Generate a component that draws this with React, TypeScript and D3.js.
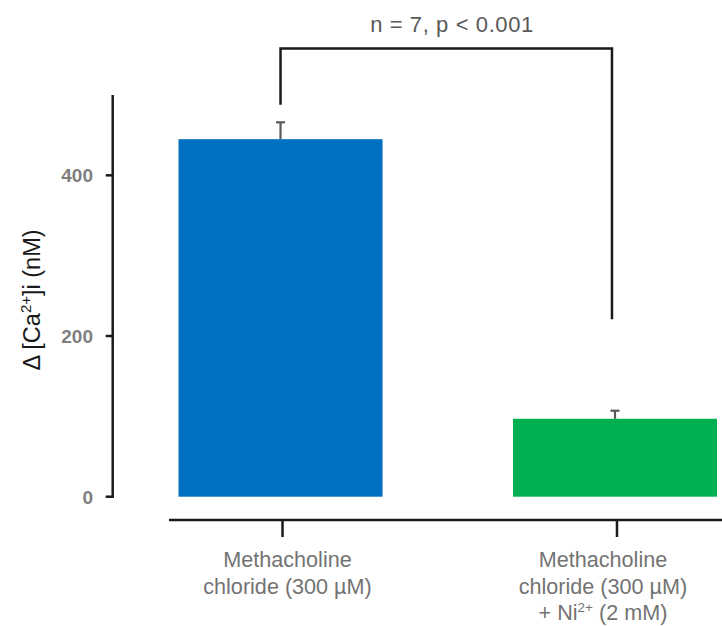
import React from "react";
import * as d3 from "d3";

const categories = ["Methacholine chloride (300 µM)", "Methacholine chloride (300 µM) + Ni2+ (2 mM)"];
const means = [445, 97];
const errors = [21, 10];
const barColors = ["#0070C0", "#00B050"];
const yTicks = [0, 200, 400];
const yMax = 500;
const bracketTop = 558;
const bracketLegEnds = [488, 221];
const annotation = "n = 7, p < 0.001";

const W = 722;
const H = 626;

export default function App() {
  const y = d3.scaleLinear().domain([0, yMax]).range([496.7, 95]);
  const x = d3
    .scaleBand<string>()
    .domain(categories)
    .range([178.5, 717])
    .paddingInner(0.39)
    .paddingOuter(0);
  const bw = x.bandwidth();
  const cx = (c: string) => (x(c) as number) + bw / 2;
  const axisX = 112.7;
  const xAxisY = 520;
  const labelDx = [7, -12];
  const gray = "#737373";
  const lfs = 21.6;

  return (
    <svg
      width={W}
      height={H}
      style={{ position: "absolute", left: 0, top: 0, background: "#fff" }}
      fontFamily="'Liberation Sans', Arial, sans-serif"
    >
      {/* bars */}
      {categories.map((c, i) => (
        <rect
          key={c}
          x={x(c)}
          y={y(means[i])}
          width={bw}
          height={y(0) - y(means[i])}
          fill={barColors[i]}
        />
      ))}
      {/* error bars */}
      {categories.map((c, i) => (
        <g key={"e" + c} stroke="#595959" strokeWidth={2.2}>
          <line x1={cx(c)} x2={cx(c)} y1={y(means[i])} y2={y(means[i] + errors[i])} />
          <line x1={cx(c) - 4.5} x2={cx(c) + 4.5} y1={y(means[i] + errors[i])} y2={y(means[i] + errors[i])} />
        </g>
      ))}
      {/* y axis */}
      <line x1={axisX} x2={axisX} y1={y(yMax)} y2={y(0) + 1} stroke="#1a1a1a" strokeWidth={2.5} />
      {yTicks.map((t) => (
        <g key={t}>
          <line x1={axisX - 7} x2={axisX + 1} y1={y(t)} y2={y(t)} stroke="#1a1a1a" strokeWidth={2.5} />
          <text
            x={93}
            y={y(t)}
            dy="0.36em"
            textAnchor="end"
            fontSize={19}
            fontWeight="bold"
            fill="#7f7f7f"
          >
            {t}
          </text>
        </g>
      ))}
      {/* y label */}
      <text
        transform="translate(40,300) rotate(-90)"
        textAnchor="middle"
        fontSize={23.5}
        fill="#1a1a1a"
      >
        {"Δ [Ca"}
        <tspan fontSize={15} dy={-9}>2+</tspan>
        <tspan dy={9}>{"]i (nM)"}</tspan>
      </text>
      {/* x axis */}
      <line x1={169} x2={W} y1={xAxisY} y2={xAxisY} stroke="#1a1a1a" strokeWidth={2.5} />
      {categories.map((c) => (
        <line key={"t" + c} x1={cx(c) + 2} x2={cx(c) + 2} y1={xAxisY} y2={537} stroke="#1a1a1a" strokeWidth={2.5} />
      ))}
      {/* x labels */}
      <text x={cx(categories[0]) + labelDx[0]} y={567} textAnchor="middle" fontSize={lfs} fill={gray}>
        <tspan x={cx(categories[0]) + labelDx[0]}>Methacholine</tspan>
        <tspan x={cx(categories[0]) + labelDx[0]} dy={26.5}>chloride (300 µM)</tspan>
      </text>
      <text x={cx(categories[1]) + labelDx[1]} y={567} textAnchor="middle" fontSize={lfs} fill={gray}>
        <tspan x={cx(categories[1]) + labelDx[1]}>Methacholine</tspan>
        <tspan x={cx(categories[1]) + labelDx[1]} dy={26.5}>chloride (300 µM)</tspan>
        <tspan x={cx(categories[1]) + labelDx[1]} dy={26.5}>
          {"+ Ni"}
          <tspan fontSize={13.5} dy={-8}>2+</tspan>
          <tspan dy={8}>{" (2 mM)"}</tspan>
        </tspan>
      </text>
      {/* significance bracket */}
      <path
        d={`M${cx(categories[0])},${y(bracketLegEnds[0])}V${y(bracketTop)}H${cx(categories[1]) - 3}V${y(bracketLegEnds[1])}`}
        fill="none"
        stroke="#1a1a1a"
        strokeWidth={2.5}
      />
      <text x={452} y={32} textAnchor="middle" fontSize={22} letterSpacing={0.6} fill="#595959">
        {annotation}
      </text>
    </svg>
  );
}
